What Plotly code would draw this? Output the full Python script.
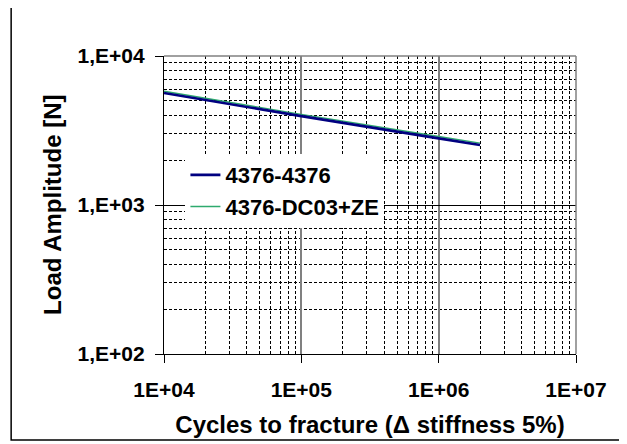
import plotly.graph_objects as go

# cycles to fracture and load amplitude
cycles = [1e4, 1e5, 1e6, 2e6]
load_4376_4376 = [5650, 3950, 2800, 2530]
load_4376_dc03 = [5800, 4060, 2880, 2600]

x_ticks = [1e4, 1e5, 1e6, 1e7]
x_labels = ["1E+04", "1E+05", "1E+06", "1E+07"]
y_ticks = [1e2, 1e3, 1e4]
y_labels = ["1,E+02", "1,E+03", "1,E+04"]

FONT = "Liberation Sans, Arial, sans-serif"

fig = go.Figure()

# green drawn first so the navy line sits on top of it
fig.add_trace(go.Scatter(
    x=cycles, y=load_4376_dc03, mode="lines", name="4376-DC03+ZE",
    line=dict(color="#2EAA6E", width=1.4), legendrank=2,
))
fig.add_trace(go.Scatter(
    x=cycles, y=load_4376_4376, mode="lines", name="4376-4376",
    line=dict(color="#000080", width=2.6), legendrank=1,
))

minor_grid = dict(showgrid=True, gridcolor="black", griddash="3px,2px",
                  gridwidth=1, dtick="D1", ticks="")

fig.update_xaxes(
    type="log", range=[4, 7],
    tickvals=x_ticks, ticktext=x_labels,
    showline=True, linecolor="black", linewidth=1.3,
    ticks="outside", ticklen=8, tickcolor="black", tickwidth=1.3,
    ticklabelstandoff=9,
    showgrid=True, gridcolor="#808080", gridwidth=1.5,
    minor=minor_grid,
    tickfont=dict(family=FONT, size=21, color="black", weight="bold"),
    title=dict(text="Cycles to fracture (Δ stiffness 5%)", standoff=15,
               font=dict(family=FONT, size=24, color="black", weight="bold")),
    zeroline=False,
)
fig.update_yaxes(
    type="log", range=[2, 4],
    tickvals=y_ticks, ticktext=y_labels,
    showline=True, linecolor="black", linewidth=1.3,
    ticks="outside", ticklen=8, tickcolor="black", tickwidth=1.3,
    ticklabelstandoff=6,
    showgrid=True, gridcolor="black", gridwidth=1.2,
    minor=minor_grid,
    tickfont=dict(family=FONT, size=21, color="black", weight="bold"),
    zeroline=False,
)

# y title placed as an annotation so it can sit close to the tick labels
fig.add_annotation(
    text="Load Amplitude [N]", textangle=-90,
    xref="paper", yref="paper", x=-0.272, y=0.5,
    xanchor="center", yanchor="middle", showarrow=False,
    font=dict(family=FONT, size=24, color="black", weight="bold"),
)

# gray top / right frame of the plot area and the outer chart border
fig.add_shape(type="line", xref="paper", yref="paper", x0=0, x1=1, y0=1, y1=1,
              line=dict(color="#808080", width=1.5))
fig.add_shape(type="line", xref="paper", yref="paper", x0=1, x1=1, y0=0, y1=1,
              line=dict(color="#808080", width=1.5))
fig.add_shape(type="rect", xref="paper", yref="paper",
              x0=-0.371, x1=1.109, y0=-0.289, y1=1.178,
              line=dict(color="black", width=1.5))

# page body has an 8px margin, so the figure is 8px smaller and margins shifted
fig.update_layout(
    width=619, height=436,
    margin=dict(l=156, r=51, t=48, b=90),
    paper_bgcolor="white", plot_bgcolor="white",
    showlegend=True,
    legend=dict(
        x=0.052, y=0.671, xanchor="left", yanchor="top",
        bgcolor="white", borderwidth=0,
        font=dict(family=FONT, size=22, color="black", weight="bold"),
        traceorder="normal",
    ),
)

fig.write_html("out.html")
